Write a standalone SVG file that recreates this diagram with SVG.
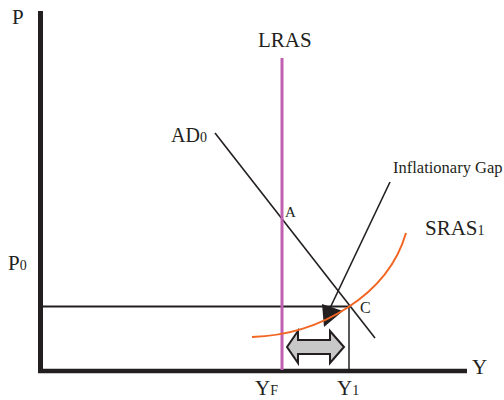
<svg xmlns="http://www.w3.org/2000/svg" width="504" height="400" viewBox="0 0 504 400">
<style>
text{font-family:"Liberation Serif","Times New Roman",serif;fill:#231f20}
.ln{stroke:#231f20;fill:none}
</style>
<rect width="504" height="400" fill="#fff"/>
<g id="axes">
<line class="ln" x1="40.5" y1="11" x2="40.5" y2="373" stroke-width="5"/>
<line class="ln" x1="38" y1="371" x2="467" y2="371" stroke-width="4.5"/>
<text x="12" y="24" font-size="21">P</text>
<text x="472" y="374" font-size="21">Y</text>
</g>
<g id="connectors">
<line class="ln" x1="43" y1="306.5" x2="349" y2="306.5" stroke-width="2"/>
<line class="ln" x1="349" y1="306" x2="349" y2="370" stroke-width="1.5"/>
<line class="ln" x1="215" y1="133" x2="375" y2="338" stroke-width="1.6"/>
<line class="ln" x1="390" y1="182" x2="331" y2="306" stroke-width="1.6"/>
<polygon points="322,304 324,327 343,311" fill="#231f20"/>
<polygon points="287,347 298,331 298,340 330,340 330,331 344,347 330,363 330,354 298,354 298,363" fill="#c8c8c8" stroke="#231f20" stroke-width="2" stroke-linejoin="miter"/>
</g>
<g id="LRAS">
<line x1="282" y1="58" x2="282" y2="370" stroke="#c060b0" stroke-width="3"/>
<text x="258" y="47" font-size="21">LRAS</text>
</g>
<g id="SRAS">
<path d="M252,337 C320,335 388,295 406,233" fill="none" stroke="#f26522" stroke-width="2"/>
<text x="425" y="235" font-size="21">SRAS<tspan font-size="14">1</tspan></text>
</g>
<g id="AD">
<text x="171" y="142" font-size="20">AD<tspan font-size="14">0</tspan></text>
</g>
<g id="labels">
<text x="393" y="173" font-size="16.5">Inflationary Gap</text>
<text x="8" y="270" font-size="21">P<tspan font-size="14">0</tspan></text>
<text x="285" y="217" font-size="15">A</text>
<text x="360" y="313" font-size="16">C</text>
<text x="255" y="395" font-size="21">Y<tspan font-size="14">F</tspan></text>
<text x="337" y="395" font-size="21">Y<tspan font-size="14">1</tspan></text>
</g>
</svg>
